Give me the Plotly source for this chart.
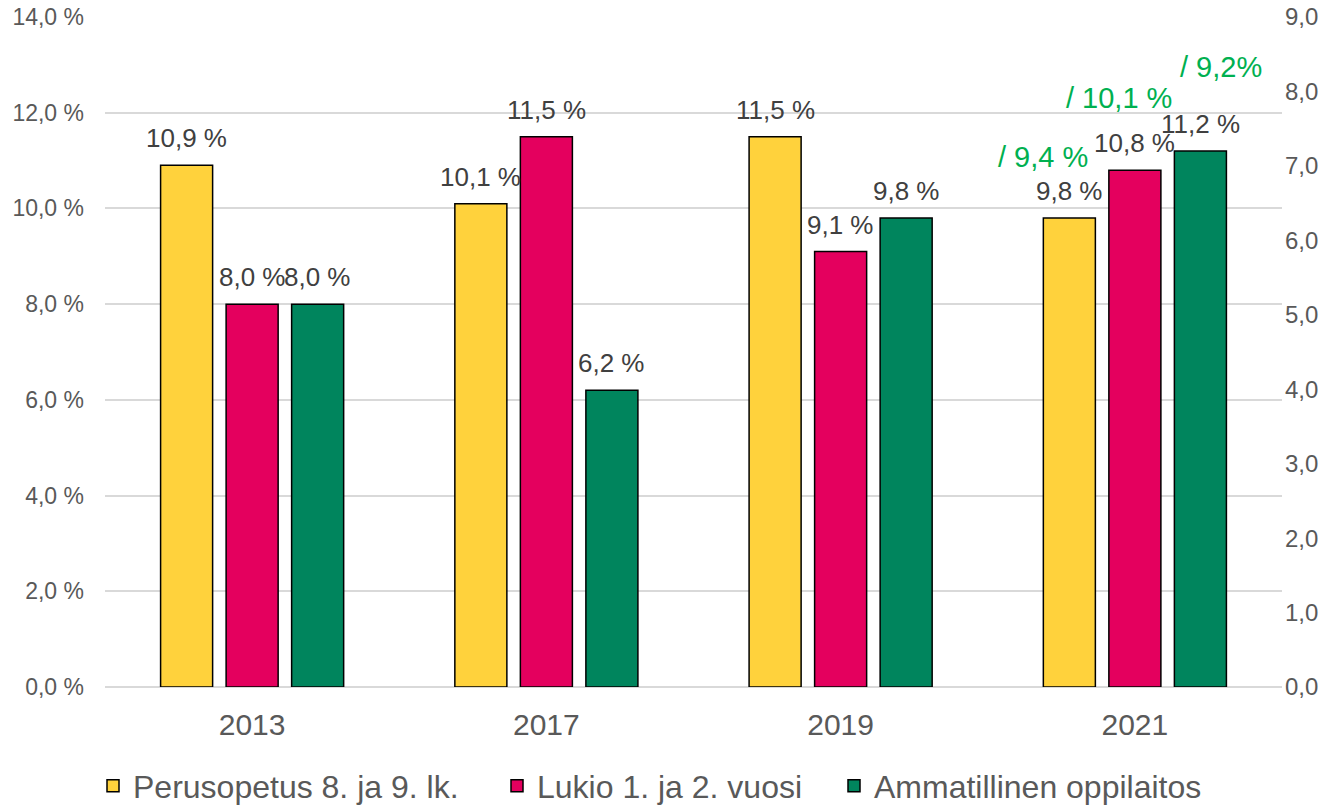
import plotly.graph_objects as go

years = ["2013", "2017", "2019", "2021"]
series_names = ["Perusopetus 8. ja 9. lk.", "Lukio 1. ja 2. vuosi", "Ammatillinen oppilaitos"]
perusopetus = [10.9, 10.1, 11.5, 9.8]
lukio = [8.0, 11.5, 9.1, 10.8]
ammatillinen = [8.0, 6.2, 9.8, 11.2]
extra_2021_labels = ["/ 9,4 %", "/ 10,1 %", "/ 9,2%"]

colors = ["#FFD23C", "#E4005E", "#00855D"]
all_series = [perusopetus, lukio, ammatillinen]

FONT = "Liberation Sans, Arial, sans-serif"
W, H = 1321, 805

legend_names = ["legend", "legend2", "legend3"]
legend_left_px = [93, 497, 834]

fig = go.Figure()
for name, vals, col, lg in zip(series_names, all_series, colors, legend_names):
    fig.add_trace(go.Bar(
        x=years, y=vals, name=name,
        marker=dict(color=col, line=dict(color="#000000", width=1.5)),
        yaxis="y", legend=lg,
    ))

# invisible trace to activate the secondary axis
fig.add_trace(go.Scatter(x=years, y=[None] * len(years), yaxis="y2",
                         showlegend=False, hoverinfo="skip"))

slot_px = 65.5
annotations = []
for si, vals in enumerate(all_series):
    for yi, v in enumerate(vals):
        annotations.append(dict(
            x=yi, y=v, xref="x", yref="y",
            text=f"{v:.1f} %".replace(".", ","),
            showarrow=False, xanchor="center", yanchor="middle",
            xshift=(si - 1) * slot_px, yshift=27,
            font=dict(family=FONT, size=26, color="#404040"),
        ))

green_shift = [(-26, 61), (-16, 72), (21, 84)]
last = len(years) - 1
for si, (lab, (dx, dy)) in enumerate(zip(extra_2021_labels, green_shift)):
    annotations.append(dict(
        x=last, y=all_series[si][last], xref="x", yref="y",
        text=lab, showarrow=False, xanchor="center", yanchor="middle",
        xshift=(si - 1) * slot_px + dx, yshift=dy,
        font=dict(family=FONT, size=29, color="#00B050"),
    ))

legend_common = dict(
    orientation="h", xref="container", yref="container",
    xanchor="left", yanchor="middle", y=1 - 786 / H,
    font=dict(family=FONT, size=32, color="#595959"),
    bgcolor="rgba(0,0,0,0)",
)
legends = {}
for lg, px in zip(legend_names, legend_left_px):
    legends[lg] = dict(legend_common, x=px / W)

fig.update_layout(
    width=W, height=H,
    margin=dict(l=105, r=39, t=17, b=118, autoexpand=False),
    paper_bgcolor="white", plot_bgcolor="white",
    separators=", ",
    barmode="group", bargap=0.332, bargroupgap=0.206,
    font=dict(family=FONT, color="#595959"),
    xaxis=dict(
        type="category", range=[-0.5, 3.5], automargin=False,
        showgrid=False, showline=False, ticks="",
        tickfont=dict(size=30, color="#595959"),
        ticklabelstandoff=17,
    ),
    yaxis=dict(
        range=[0, 14], dtick=2, tickformat=".1f", ticksuffix=" %",
        automargin=False,
        showgrid=True, gridcolor="#D9D9D9", gridwidth=1.5,
        zeroline=True, zerolinecolor="#D9D9D9", zerolinewidth=1.5,
        showline=False, ticks="",
        tickfont=dict(size=23, color="#595959"),
        ticklabelstandoff=20,
    ),
    yaxis2=dict(
        range=[0, 9], dtick=1, tickformat=".1f", automargin=False,
        overlaying="y", side="right", showgrid=False, zeroline=False,
        showline=False, ticks="",
        tickfont=dict(size=24, color="#595959"),
        ticklabelstandoff=2,
    ),
    annotations=annotations,
    **legends,
)

fig.write_html("out.html",
               config={"displayModeBar": False},
               post_script="document.body.style.margin='0';document.body.style.overflow='hidden';")
